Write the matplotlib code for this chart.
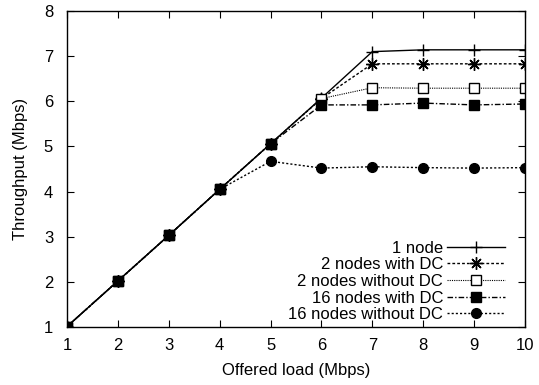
import matplotlib
matplotlib.use('Agg')
import matplotlib.pyplot as plt

plt.rcParams['font.family'] = ['Liberation Sans', 'DejaVu Sans']

# Data
offered_load = [1, 2, 3, 4, 5, 6, 7, 8, 9, 10]
one_node = [1.01, 2.02, 3.03, 4.05, 5.06, 6.07, 7.10, 7.14, 7.14, 7.14]
two_dc = [1.01, 2.02, 3.03, 4.05, 5.06, 6.06, 6.83, 6.83, 6.83, 6.83]
two_nodc = [1.01, 2.02, 3.03, 4.05, 5.06, 6.06, 6.30, 6.29, 6.29, 6.29]
sixteen_dc = [1.01, 2.02, 3.03, 4.05, 5.06, 5.92, 5.92, 5.96, 5.92, 5.94]
sixteen_nodc = [1.01, 2.02, 3.03, 4.05, 4.67, 4.52, 4.55, 4.53, 4.52, 4.53]

fig = plt.figure(figsize=(5.39, 3.85), dpi=100)
ax = fig.add_axes([67 / 539, 1 - 327 / 385, (525 - 67) / 539, (327 - 11) / 385])

ax.plot(offered_load, one_node, color='black', linestyle='-', linewidth=1.0,
        marker='+', markersize=9, markeredgewidth=1.0, label='1 node')
ax.plot(offered_load, two_dc, color='black', linestyle=(0, (2, 1.5)), linewidth=1.0,
        marker=(8, 2, 0), markersize=9, markeredgewidth=1.0, label='2 nodes with DC')
ax.plot(offered_load, two_nodc, color='black', linestyle=(0, (1, 1)), linewidth=0.8,
        marker='s', markersize=7, markerfacecolor='white', markeredgewidth=1.0,
        label='2 nodes without DC')
ax.plot(offered_load, sixteen_dc, color='black', linestyle=(0, (4, 1.5, 1, 1.5)), linewidth=1.0,
        marker='s', markersize=7, label='16 nodes with DC')
ax.plot(offered_load, sixteen_nodc, color='black', linestyle=(0, (1.5, 1.5)), linewidth=1.0,
        marker='o', markersize=7, label='16 nodes without DC')

ax.set_xlim(1, 10)
ax.set_ylim(1, 8)
ax.set_xticks(range(1, 11))
ax.set_yticks(range(1, 9))
ax.tick_params(direction='in', top=True, right=True, length=5, labelsize=12)
ax.tick_params(axis='x', pad=8)
ax.tick_params(axis='y', pad=10)
for s in ax.spines.values():
    s.set_linewidth(1.0)
ax.set_xlabel('Offered load (Mbps)', fontsize=12, labelpad=7)
ax.set_ylabel('Throughput (Mbps)', fontsize=12, labelpad=11)

leg = ax.legend(loc='lower right', bbox_to_anchor=(0.956, 0.015), frameon=False,
                markerfirst=False, fontsize=12, handlelength=3.5, labelspacing=0.1,
                borderaxespad=0.0, borderpad=0.0, handletextpad=0.2)
for t in leg.get_texts():
    t.set_ha('right')
leg._legend_box.align = 'right'

plt.savefig('out.png', dpi=100)
